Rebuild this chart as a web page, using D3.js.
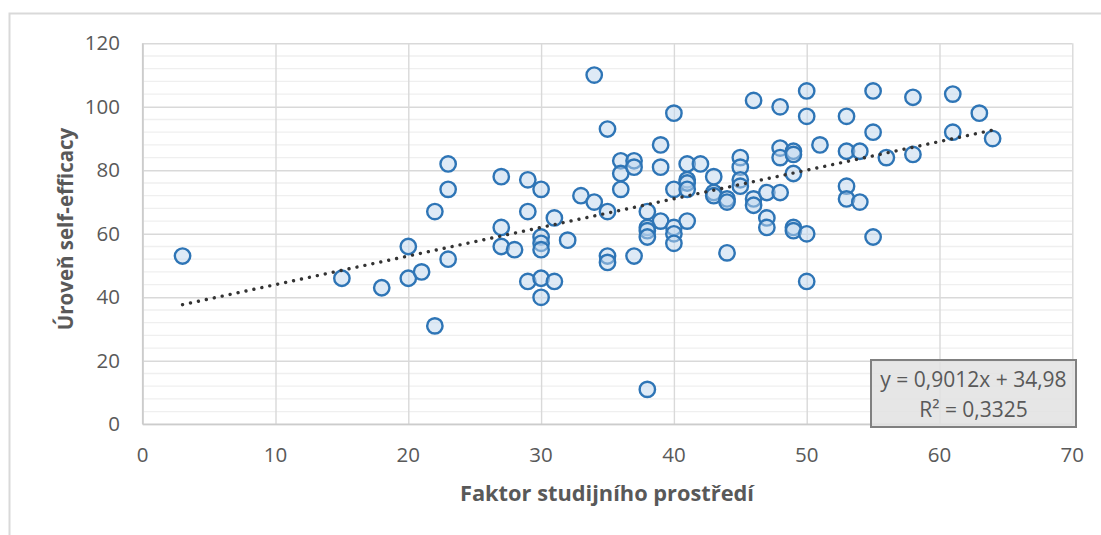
<!DOCTYPE html>
<html>
<head>
<meta charset="utf-8">
<script src="https://cdn.jsdelivr.net/npm/d3@7"></script>
<style>
    body { margin: 0; background: #fff; }
    text { font-family: "Open Sans", sans-serif; fill: #595959; }
</style>
</head>
<body>
<div id="chart"></div>
<script>
// values (x = faktor, y = self-efficacy), paired by index
var xValues = [3, 15, 18, 20, 20, 21, 22, 22, 23, 23, 23, 27, 27, 27, 28, 29, 29, 29,
    30, 30, 30, 30, 30, 30, 31, 31, 32, 33, 34, 34, 35, 35, 35, 35, 36, 36, 36, 37, 37, 37,
    38, 38, 38, 38, 38, 39, 39, 39, 40, 40, 40, 40, 40, 41, 41, 41, 41, 41, 42, 43, 43, 43,
    44, 44, 44, 45, 45, 45, 45, 46, 46, 46, 47, 47, 47, 48, 48, 48, 48, 49, 49, 49, 49, 49,
    50, 50, 50, 50, 51, 53, 53, 53, 53, 54, 54, 55, 55, 55, 56, 58, 58, 61, 61, 63, 64];
var yValues = [53, 46, 43, 56, 46, 48, 67, 31, 82, 74, 52, 78, 62, 56, 55, 77, 67, 45,
    74, 59, 57, 55, 46, 40, 65, 45, 58, 72, 110, 70, 93, 67, 53, 51, 83, 79, 74, 83, 81, 53,
    67, 62, 61, 59, 11, 88, 81, 64, 98, 74, 62, 60, 57, 82, 77, 76, 74, 64, 82, 78, 73, 72,
    71, 70, 54, 84, 81, 77, 75, 102, 71, 69, 73, 65, 62, 100, 87, 84, 73, 86, 85, 79, 62, 61,
    105, 97, 60, 45, 88, 97, 86, 75, 71, 86, 70, 105, 92, 59, 84, 103, 85, 104, 92, 98, 90];

var xTicks = [0, 10, 20, 30, 40, 50, 60, 70];
var yTicks = [0, 20, 40, 60, 80, 100, 120];

// linear trendline as printed in the chart
var trendSlope = 0.9012;
var trendIntercept = 34.98;
var trendLabels = ["y = 0,9012x + 34,98", "R² = 0,3325"];

var xTitle = "Faktor studijního prostředí";
var yTitle = "Úroveň self-efficacy";

var width = 1101, height = 535;

var x = d3.scaleLinear().domain([0, 70]).range([142.7, 1072.3]);
var y = d3.scaleLinear().domain([0, 120]).range([424.3, 43.3]);

var svg = d3.select("#chart").append("svg")
    .attr("width", width)
    .attr("height", height);

// chart frame
svg.append("rect")
    .attr("x", 9.5).attr("y", 13.5)
    .attr("width", 1100).attr("height", 540)
    .attr("fill", "none")
    .attr("stroke", "#d9d9d9")
    .attr("stroke-width", 2);

// minor horizontal gridlines every 4
var minor = d3.range(0, 121, 4).filter(v => v % 20 != 0);
svg.append("g").selectAll("line")
    .data(minor)
    .join("line")
    .attr("x1", x(0)).attr("x2", x(70))
    .attr("y1", d => y(d)).attr("y2", d => y(d))
    .attr("stroke", "#efefef")
    .attr("stroke-width", 1.3);

// major gridlines
svg.append("g").call(d3.axisBottom(x).tickValues(xTicks).tickSize(y(0) - y(120)).tickFormat(""))
    .attr("transform", `translate(0,${y(120)})`)
    .call(g => g.select(".domain").remove())
    .call(g => g.selectAll("line").attr("stroke", "#d9d9d9").attr("stroke-width", 1.4));

svg.append("g").call(d3.axisLeft(y).tickValues(yTicks).tickSize(-(x(70) - x(0))).tickFormat(""))
    .attr("transform", `translate(${x(0)},0)`)
    .call(g => g.select(".domain").remove())
    .call(g => g.selectAll("line").attr("stroke", "#d9d9d9").attr("stroke-width", 1.4));

// axis lines
svg.append("line")
    .attr("x1", x(0)).attr("x2", x(70)).attr("y1", y(0)).attr("y2", y(0))
    .attr("stroke", "#cccccc").attr("stroke-width", 1.6);
svg.append("line")
    .attr("x1", x(0)).attr("x2", x(0)).attr("y1", y(0)).attr("y2", y(120))
    .attr("stroke", "#cccccc").attr("stroke-width", 1.6);

// tick labels
svg.append("g")
    .style("font-size", "20.5px")
    .attr("text-anchor", "middle")
    .selectAll("text")
    .data(xTicks)
    .join("text")
    .attr("x", d => x(d))
    .attr("y", 455)
    .attr("dy", "0.35em")
    .text(d => d);

svg.append("g")
    .style("font-size", "20.5px")
    .attr("text-anchor", "end")
    .selectAll("text")
    .data(yTicks)
    .join("text")
    .attr("x", 120)
    .attr("y", d => y(d))
    .attr("dy", "0.35em")
    .text(d => d);

// axis titles
svg.append("text")
    .attr("x", 607)
    .attr("y", 501)
    .attr("text-anchor", "middle")
    .style("font-size", "21.8px")
    .style("font-weight", "bold")
    .text(xTitle);

svg.append("text")
    .attr("transform", "translate(73,229) rotate(-90)")
    .attr("text-anchor", "middle")
    .style("font-size", "20.5px")
    .style("font-weight", "bold")
    .text(yTitle);

// points
var points = xValues.map((v, i) => ({x: v, y: yValues[i]}));
svg.append("g").selectAll("circle")
    .data(points)
    .join("circle")
    .attr("cx", d => x(d.x))
    .attr("cy", d => y(d.y))
    .attr("r", 7.7)
    .attr("fill", "rgb(189,213,238)")
    .attr("fill-opacity", 0.5)
    .attr("stroke", "#2e75b6")
    .attr("stroke-width", 2.4);

// dotted trendline over the data range
var xMin = d3.min(xValues), xMax = d3.max(xValues);
svg.append("line")
    .attr("x1", x(xMin)).attr("y1", y(trendSlope * xMin + trendIntercept))
    .attr("x2", x(xMax)).attr("y2", y(trendSlope * xMax + trendIntercept))
    .attr("stroke", "#333333")
    .attr("stroke-width", 3.4)
    .attr("stroke-linecap", "round")
    .attr("stroke-dasharray", "0.01 8.1");

// trendline label box
var box = svg.append("g");
box.append("rect")
    .attr("x", 871).attr("y", 360)
    .attr("width", 205).attr("height", 67)
    .attr("fill", "#e2e2e2")
    .attr("fill-opacity", 0.85)
    .attr("stroke", "#808080")
    .attr("stroke-width", 2);
box.selectAll("text")
    .data(trendLabels)
    .join("text")
    .attr("x", 973.5)
    .attr("y", (d, i) => 380 + i * 30)
    .attr("dy", "0.35em")
    .attr("text-anchor", "middle")
    .style("font-size", "21px")
    .text(d => d);
</script>
</body>
</html>
